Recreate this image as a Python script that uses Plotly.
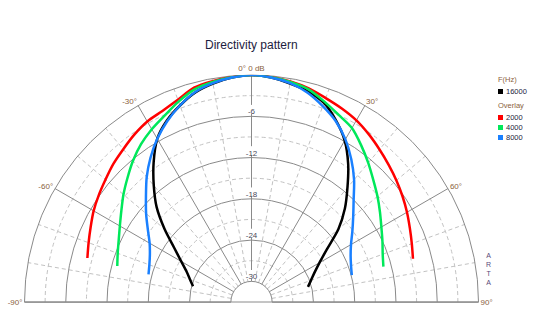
import plotly.graph_objects as go

# ---------------- data ----------------
THETA = list(range(-75, 80, 5))  # degrees, 0 = on axis

F16000 = [-24.2, -23.5, -22.6, -21.2, -19.3, -16.5, -13.5, -10.9, -8.2, -5.6, -3.9, -2.6, -1.45, -0.75, -0.25,
          0.0,
          -0.25, -0.75, -1.3, -2.2, -3.9, -5.9, -8.5, -11.3, -13.8, -16.5, -19.6, -21.6, -22.9, -23.8, -24.5]
F2000 = [-8.3, -7.8, -7.2, -6.5, -5.9, -5.3, -4.6, -4.0, -3.3, -2.7, -2.35, -1.7, -0.75, -0.4, -0.15,
         0.0,
         -0.15, -0.45, -0.85, -1.45, -1.95, -2.5, -3.25, -4.05, -4.8, -5.5, -6.2, -6.9, -7.6, -8.2, -8.7]
F4000 = [-12.8, -12.3, -11.7, -10.9, -9.9, -8.7, -7.5, -6.2, -5.0, -4.0, -3.1, -2.0, -1.0, -0.5, -0.2,
         0.0,
         -0.2, -0.5, -1.0, -2.0, -3.0, -3.8, -5.2, -6.6, -7.95, -9.1, -10.2, -11.2, -12.0, -12.7, -13.15]
F8000 = [-17.5, -17.2, -16.7, -15.9, -14.6, -13.0, -11.3, -9.3, -7.4, -5.6, -4.0, -2.6, -1.4, -0.7, -0.25,
         0.0,
         -0.25, -0.7, -1.5, -2.7, -4.0, -5.7, -7.7, -9.8, -12.0, -13.7, -15.1, -16.3, -17.1, -17.6, -17.9]

MAIN_SERIES = {"16000": F16000}
OVERLAY_SERIES = {"2000": F2000, "4000": F4000, "8000": F8000}
SERIES_COLORS = {"16000": "#000000", "2000": "#ff0000", "4000": "#00e85a", "8000": "#1a80ff"}

ANGLE_TICKS = [-90, -60, -30, 0, 30, 60, 90]
ANGLE_LABELS = ["-90°", "-60°", "-30°", "0° 0 dB", "30°", "60°", "90°"]
ANGLE_MINOR = [-80, -70, -50, -40, -20, -10, 10, 20, 40, 50, 70, 80]
DB_MAJOR = [-30, -24, -18, -12, -6]
DB_MINOR = [-27, -21, -15, -9, -3]
DB_LABELS = ["-30", "-24", "-18", "-12", "-6"]
DB_RANGE = [-30, 0]
DB_FLOOR = -33

# ---------------- figure ----------------
W, H = 536, 335
def px(x, y):
    return x / W, 1 - y / H

DOM = dict(x=[24.5 / W, 478.5 / W], y=[33 / H, 260 / H])
HOLE = (DB_RANGE[0] - DB_FLOOR) / (DB_RANGE[1] - DB_FLOOR)

GRID_SOLID = "#8a8a8a"
GRID_DASH = "#c2c2c2"
DASH = "4px,3px"
BROWN = "#8a6240"
FONT = "Liberation Sans, Arial, sans-serif"

fig = go.Figure()

# invisible trace so that the dashed-grid subplot is rendered
fig.add_trace(go.Scatterpolar(r=[DB_RANGE[0]], theta=[0], mode="markers", subplot="polar",
                              marker=dict(size=1, opacity=0), showlegend=False, hoverinfo="skip"))

order = ["16000", "2000", "4000", "8000"]
allser = {**MAIN_SERIES, **OVERLAY_SERIES}
for name in order:
    fig.add_trace(go.Scatterpolar(
        r=allser[name], theta=THETA, mode="lines", subplot="polar2",
        line=dict(color=SERIES_COLORS[name], width=2.5, shape="spline", smoothing=0.8),
        name=name, showlegend=False, hoverinfo="skip"))

# white patches behind the dB labels, then the labels
fig.add_trace(go.Scatterpolar(
    r=[v + 1.0 for v in DB_MAJOR], theta=[0] * len(DB_MAJOR), mode="markers", subplot="polar2",
    marker=dict(symbol="square", size=9, color="white", line=dict(width=0)),
    showlegend=False, hoverinfo="skip"))
fig.add_trace(go.Scatterpolar(
    r=DB_MAJOR, theta=[0] * len(DB_MAJOR), mode="text", text=DB_LABELS,
    textposition="top center", subplot="polar2",
    textfont=dict(size=8, color="#4a4a5a", family=FONT),
    showlegend=False, hoverinfo="skip"))

common_ang = dict(rotation=90, direction="clockwise", thetaunit="degrees", ticks="")
fig.update_layout(
    width=W, height=H, margin=dict(l=0, r=0, t=0, b=0),
    paper_bgcolor="white", showlegend=False,
    font=dict(family=FONT, size=8),
    polar=dict(
        domain=DOM, sector=[0, 180], hole=HOLE, bgcolor="white",
        angularaxis=dict(**common_ang, tickmode="array", tickvals=ANGLE_MINOR,
                         showticklabels=False, showline=False,
                         gridcolor=GRID_DASH, griddash=DASH, gridwidth=1),
        radialaxis=dict(range=DB_RANGE, tickmode="array", tickvals=DB_MINOR,
                        showticklabels=False, ticks="", showline=False,
                        gridcolor=GRID_DASH, griddash=DASH, gridwidth=1),
    ),
    polar2=dict(
        domain=DOM, sector=[0, 180], hole=HOLE, bgcolor="rgba(0,0,0,0)",
        angularaxis=dict(**common_ang, tickmode="array", tickvals=ANGLE_TICKS,
                         ticktext=ANGLE_LABELS, showline=True, linecolor=GRID_SOLID,
                         linewidth=1, gridcolor=GRID_SOLID, gridwidth=1,
                         tickfont=dict(size=8, color=BROWN), layer="below traces"),
        radialaxis=dict(range=DB_RANGE, tickmode="array", tickvals=DB_MAJOR,
                        showticklabels=False, ticks="", showline=False,
                        gridcolor=GRID_SOLID, gridwidth=1, layer="below traces"),
    ),
)

# baseline across the bottom of the half circle
x0, y0 = px(24.5, 302)
x1, _ = px(478.5, 302)
shapes = [dict(type="line", xref="paper", yref="paper", x0=x0, x1=x1, y0=y0, y1=y0,
               line=dict(color=GRID_SOLID, width=1), layer="below")]

annotations = []
tx, ty = px(251, 45)
annotations.append(dict(text="Directivity pattern", x=tx, y=ty, xref="paper", yref="paper",
                        showarrow=False, xanchor="center", yanchor="middle",
                        font=dict(size=12, color="#1c1c40", family=FONT)))

# legend (drawn as text + swatches)
def label(text, x, y, color, size=7.5):
    ax, ay = px(x, y)
    annotations.append(dict(text=text, x=ax, y=ay, xref="paper", yref="paper",
                            showarrow=False, xanchor="left", yanchor="middle",
                            font=dict(size=size, color=color, family=FONT)))

def swatch(color, y):
    a0, b0 = px(498, y - 2.5)
    a1, b1 = px(503, y + 2.5)
    shapes.append(dict(type="rect", xref="paper", yref="paper", x0=a0, x1=a1, y0=b1, y1=b0,
                       fillcolor=color, line=dict(width=0)))

label("F(Hz)", 496, 79, BROWN)
ly = 91.5
for name in MAIN_SERIES:
    swatch(SERIES_COLORS[name], ly)
    label(name, 504, ly, "#1c1c40")
    ly += 13
label("Overlay", 496, 105, BROWN)
ly = 117.5
for name in OVERLAY_SERIES:
    swatch(SERIES_COLORS[name], ly)
    label(name, 504, ly, "#1c1c40")
    ly += 10

ax_, ay_ = px(488, 269)
annotations.append(dict(text="A<br>R<br>T<br>A", x=ax_, y=ay_, xref="paper", yref="paper",
                        showarrow=False, xanchor="center", yanchor="middle",
                        font=dict(size=7, color="#5a4a7a", family=FONT)))

fig.update_layout(shapes=shapes, annotations=annotations)
fig.write_html("out.html")
